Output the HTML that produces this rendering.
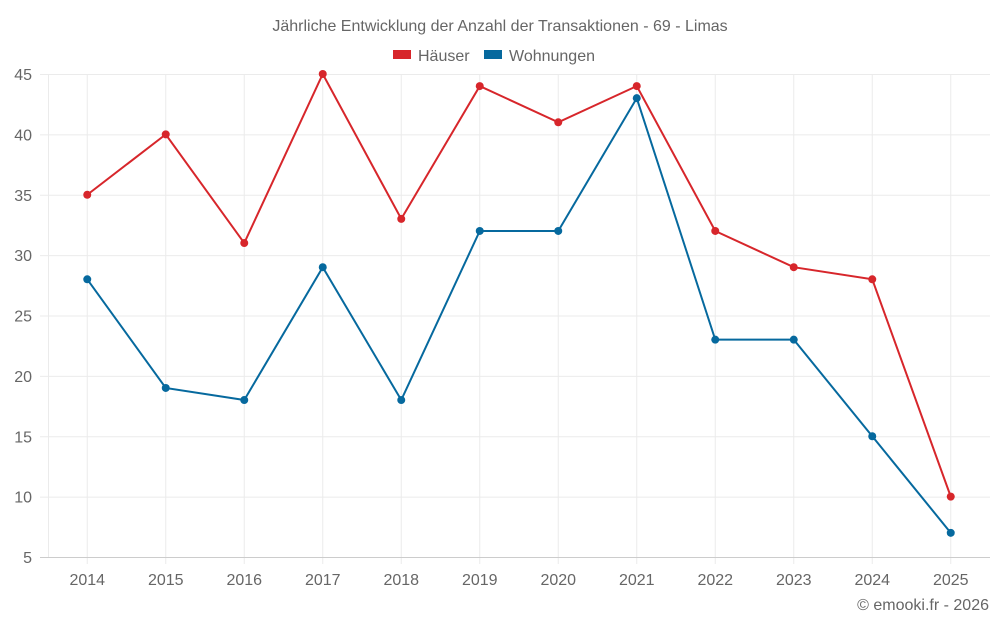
<!DOCTYPE html>
<html><head><meta charset="utf-8">
<style>
body{margin:0;background:#fff;font-family:"Liberation Sans",sans-serif;}
svg text{font-family:"Liberation Sans",sans-serif;fill:#666;}
</style></head>
<body>
<svg id="chart" width="1000" height="625" xmlns="http://www.w3.org/2000/svg">
<text x="500" y="31" text-anchor="middle" font-size="16">Jährliche Entwicklung der Anzahl der Transaktionen - 69 - Limas</text>
<g>
<g><rect x="393" y="50" width="18" height="9" fill="#d7262b"/><text x="418" y="61" font-size="16">Häuser</text></g>
<g><rect x="484" y="50" width="18" height="9" fill="#06699e"/><text x="509" y="61" font-size="16">Wohnungen</text></g>
</g>
<g id="grid"></g>
<g id="axes"></g>
<g id="series"></g>
<text x="989" y="610" text-anchor="end" font-size="16">© emooki.fr - 2026</text>
</svg>
<script>
const categories=["2014","2015","2016","2017","2018","2019","2020","2021","2022","2023","2024","2025"];
const haeuser=[35,40,31,45,33,44,41,44,32,29,28,10];
const wohnungen=[28,19,18,29,18,32,32,43,23,23,15,7];
const yTicks=[5,10,15,20,25,30,35,40,45];
const NS="http://www.w3.org/2000/svg";
const L=48,R=990,T=74,B=557,yMin=5,yMax=45;
const bw=(R-L)/categories.length;
const x=i=>L+bw*(i+0.5);
const y=v=>B-(v-yMin)/(yMax-yMin)*(B-T);
function mk(tag,attrs,parent){const e=document.createElementNS(NS,tag);for(const k in attrs)e.setAttribute(k,attrs[k]);parent.appendChild(e);return e;}
const grid=document.getElementById('grid'),axes=document.getElementById('axes'),ser=document.getElementById('series');
const lb=mk('line',{x1:L+0.5,x2:L+0.5,y1:T,y2:B,stroke:'#ebebeb','stroke-width':1},grid);


categories.forEach((c,i)=>{
 const l=mk('line',{x1:x(i),x2:x(i),y1:T,y2:B+7,stroke:'#ebebeb','stroke-width':1},grid);
 
 
});
yTicks.forEach(t=>{
 const l=mk('line',{x1:40,x2:R,y1:y(t)+0.5,y2:y(t)+0.5,stroke:t===yMin?'#ccc':'#ebebeb','stroke-width':1},grid);
 
 
 const tx=mk('text',{x:32,y:y(t)+6,'text-anchor':'end','font-size':16},axes);
 tx.textContent=t;
 
 
});
categories.forEach((c,i)=>{
 const tx=mk('text',{x:x(i),y:585,'text-anchor':'middle','font-size':16},axes);
 tx.textContent=c;
 
 
});
function draw(data,color,name){
 const p=mk('polyline',{points:data.map((v,i)=>x(i)+','+y(v)).join(' '),fill:'none',stroke:color,'stroke-width':2},ser);
 
 
 data.forEach((v,i)=>{
  const c=mk('circle',{cx:x(i),cy:y(v),r:4,fill:color},ser);
  
  
 });
}
draw(haeuser,'#d7262b','haeuser');
draw(wohnungen,'#06699e','wohnungen');
</script>
</body></html>
